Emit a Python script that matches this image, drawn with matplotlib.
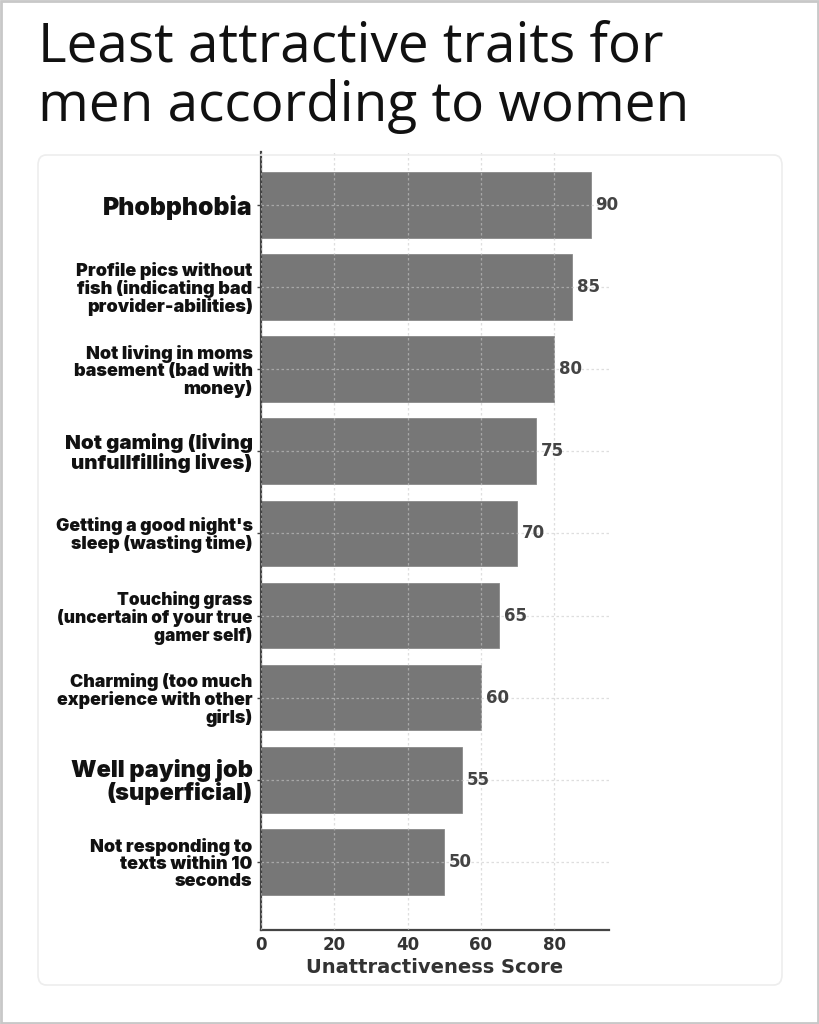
import matplotlib
matplotlib.use("Agg")
import matplotlib.pyplot as plt
from matplotlib.patches import FancyBboxPatch, Rectangle

categories = [
    "Phobphobia",
    "Profile pics without\nfish (indicating bad\nprovider-abilities)",
    "Not living in moms\nbasement (bad with\nmoney)",
    "Not gaming (living\nunfullfilling lives)",
    "Getting a good night's\nsleep (wasting time)",
    "Touching grass\n(uncertain of your true\ngamer self)",
    "Charming (too much\nexperience with other\ngirls)",
    "Well paying job\n(superficial)",
    "Not responding to\ntexts within 10\nseconds",
]
scores = [90, 85, 80, 75, 70, 65, 60, 55, 50]
label_sizes = [17.8, 13, 13, 14.8, 12.8, 12.4, 12.8, 17, 13]
xticks = [0, 20, 40, 60, 80]
title = "Least attractive traits for\nmen according to women"
xlabel = "Unattractiveness Score"

fig = plt.figure(figsize=(8.2, 10.24), dpi=100)
fig.patch.set_facecolor("white")

# outer border
fig.patches.append(Rectangle((0.001, 0.001), 0.997, 0.998, transform=fig.transFigure,
                             fill=False, edgecolor="#c8c8c8", linewidth=2.0, zorder=0))
# inner faint panel
fig.patches.append(FancyBboxPatch((38 / 820, 1 - 985 / 1024), (782 - 38) / 820, (985 - 155) / 1024,
                                  boxstyle="round,pad=0,rounding_size=0.01",
                                  transform=fig.transFigure, fill=False,
                                  edgecolor="#ededed", linewidth=1.2, zorder=0))

fig.text(38 / 820, 1 - 19 / 1024, title, ha="left", va="top", fontsize=39.5,
         family="Open Sans", color="#111111", linespacing=1.12)

ax = fig.add_axes([261 / 820, 1 - 930 / 1024, (609 - 261) / 820, (930 - 152) / 1024])
pos = list(range(len(categories)))
bars = ax.barh(pos, scores, height=0.8, color="#777777", edgecolor="#8a8a8a",
               linewidth=0.6, zorder=1)
ax.set_ylim(8.83, -0.645)
ax.set_xlim(0, 95)
ax.set_xticks(xticks)
ax.set_xticklabels([str(t) for t in xticks], fontsize=12, fontweight="bold",
                   color="#333333", family="DejaVu Sans")
ax.set_yticks(pos)
ax.set_yticklabels(categories)
for lbl, s in zip(ax.get_yticklabels(), label_sizes):
    lbl.set_fontsize(s)
    lbl.set_fontweight("black")
    lbl.set_family("Inter")
    lbl.set_color("#111111")
    lbl.set_linespacing(1.0)
    lbl.set_horizontalalignment("right")

ax.tick_params(axis="y", length=3, width=1, color="#444444", pad=3)
ax.tick_params(axis="x", length=0, pad=4)
for side in ["top", "right"]:
    ax.spines[side].set_visible(False)
for side in ["left", "bottom"]:
    ax.spines[side].set_color("#444444")
    ax.spines[side].set_linewidth(1.6)

ax.grid(True, axis="both", linestyle=(0, (2, 2)), color="#c8c8c8", alpha=0.6,
        linewidth=0.9, zorder=2)
ax.set_axisbelow(False)

for p, v in zip(pos, scores):
    ax.text(v + 1.3, p, str(v), va="center", ha="left", fontsize=12,
            fontweight="bold", color="#444444", family="DejaVu Sans", zorder=3)

ax.set_xlabel(xlabel, fontsize=14, fontweight="bold", color="#333333",
              family="DejaVu Sans", labelpad=3)

fig.savefig("out.png", dpi=100, facecolor="white")
